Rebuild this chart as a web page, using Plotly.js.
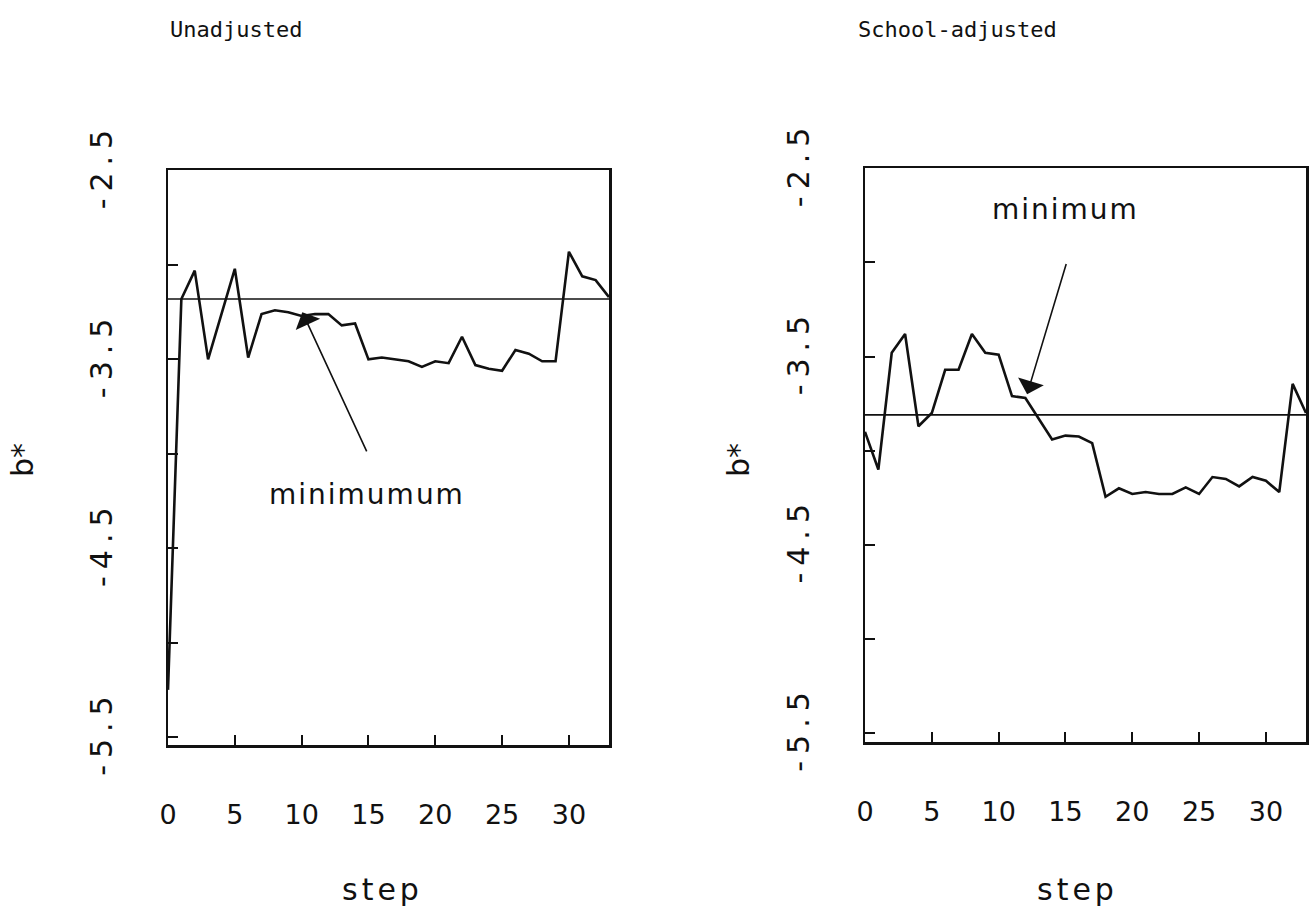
<!DOCTYPE html>
<html>
<head>
<meta charset="utf-8">
<script src="https://cdn.plot.ly/plotly-3.0.1.min.js"></script>
<style>
  html, body { margin: 0; padding: 0; background: #fff; }
  #chart { width: 1314px; height: 911px; }
  .ytick text, .y2tick text { letter-spacing: 7px; }
  g.annotation[data-index="4"] .annotation-text,
  g.annotation[data-index="5"] .annotation-text { letter-spacing: 4px; }
  g.annotation[data-index="7"] .annotation-text,
  g.annotation[data-index="9"] .annotation-text { letter-spacing: 2px; }
</style>
</head>
<body>
<div id="chart"></div>
<script>
// ---- data ----
const steps = [0,1,2,3,4,5,6,7,8,9,10,11,12,13,14,15,16,17,18,19,20,21,22,23,24,25,26,27,28,29,30,31,32,33];
const unadjusted = [-5.25,-3.18,-3.03,-3.50,-3.26,-3.02,-3.49,-3.26,-3.24,-3.25,-3.27,-3.26,-3.26,-3.32,-3.31,
  -3.50,-3.49,-3.50,-3.51,-3.54,-3.51,-3.52,-3.38,-3.53,-3.55,-3.56,-3.45,-3.47,-3.51,-3.51,-2.93,-3.06,-3.08,-3.17];
const schoolAdjusted = [-3.90,-4.10,-3.48,-3.38,-3.87,-3.80,-3.57,-3.57,-3.38,-3.48,-3.49,-3.71,-3.72,-3.83,-3.94,
  -3.92,-3.925,-3.96,-4.245,-4.20,-4.23,-4.22,-4.23,-4.23,-4.195,-4.23,-4.14,-4.15,-4.19,-4.14,-4.16,-4.22,-3.645,-3.80];
const refUnadjusted = -3.18;
const refSchool = -3.81;
const xTickVals = [0,5,10,15,20,25,30];
const yTickVals = [-5.5,-5,-4.5,-4,-3.5,-3,-2.5];
const yTickText = ['-5.5','','-4.5','','-3.5','','-2.5'];
const panelTitles = ['Unadjusted','School-adjusted'];
const xTitle = 'step';
const yTitle = 'b*';
// annotation anchors (data coords)
const minUnadj = {text:'minimumum', tip:[10.05,-3.25], start:[14.92,-3.995], label:[14.9,-4.217]};
const minSchool = {text:'minimum', tip:[12.13,-3.70], start:[15.09,-3.0], label:[14.98,-2.72]};

const first = steps[0], last = steps[steps.length-1];
const black = '#111';

const traces = [
  {x: steps, y: unadjusted, xaxis:'x', yaxis:'y', mode:'lines', line:{color:black, width:2.6}, hoverinfo:'skip'},
  {x: [first,last], y:[refUnadjusted, refUnadjusted], xaxis:'x', yaxis:'y', mode:'lines', line:{color:black, width:1.6}, hoverinfo:'skip'},
  {x: steps, y: schoolAdjusted, xaxis:'x2', yaxis:'y2', mode:'lines', line:{color:black, width:2.6}, hoverinfo:'skip'},
  {x: [first,last], y:[refSchool, refSchool], xaxis:'x2', yaxis:'y2', mode:'lines', line:{color:black, width:1.6}, hoverinfo:'skip'}
];

function xAx(domain, anchor){
  return {domain, anchor, range:[first, last], tickvals:xTickVals, ticks:'inside', ticklen:10, tickwidth:2,
    tickcolor:black, showline:true, linewidth:2.5, linecolor:black, mirror:true, showgrid:false, zeroline:false,
    tickfont:{family:'DejaVu Sans', size:27, color:black}, ticklabelstandoff:44, fixedrange:true};
}
function yAx(domain, anchor, range){
  return {domain, anchor, range, tickvals:yTickVals, ticktext:yTickText, ticks:'inside', ticklen:10, tickwidth:2,
    tickcolor:black, showline:true, linewidth:2.5, linecolor:black, mirror:true, showgrid:false, zeroline:false,
    tickfont:{family:'DejaVu Sans', size:30, color:black}, tickangle:-90, ticklabelstandoff:42, fixedrange:true};
}

function arrowAnn(a, xr, yr){
  return [
    {xref:xr, yref:yr, axref:xr, ayref:yr, x:a.tip[0], y:a.tip[1], ax:a.start[0], ay:a.start[1], text:'',
     showarrow:true, arrowhead:1, arrowsize:2.8, arrowwidth:1.6, arrowcolor:black},
    {xref:xr, yref:yr, x:a.label[0], y:a.label[1], text:a.text, showarrow:false,
     font:{family:'DejaVu Sans', size:28, color:black}, xanchor:'center', yanchor:'middle'}
  ];
}

const titleFont = {family:'DejaVu Sans Mono', size:22, color:black};
const axTitleFont = {family:'DejaVu Sans', size:30, color:black};
const annotations = [
  {xref:'paper', yref:'paper', x:168/1314, y:1-30/911, xanchor:'left', yanchor:'middle', text:panelTitles[0], showarrow:false, font:titleFont},
  {xref:'paper', yref:'paper', x:856/1314, y:1-30/911, xanchor:'left', yanchor:'middle', text:panelTitles[1], showarrow:false, font:titleFont},
  {xref:'paper', yref:'paper', x:22/1314, y:1-460/911, xanchor:'center', yanchor:'middle', text:yTitle, textangle:-90, showarrow:false, font:axTitleFont},
  {xref:'paper', yref:'paper', x:738/1314, y:1-460/911, xanchor:'center', yanchor:'middle', text:yTitle, textangle:-90, showarrow:false, font:axTitleFont},
  {xref:'paper', yref:'paper', x:382/1314, y:1-889/911, xanchor:'center', yanchor:'middle', text:xTitle, showarrow:false, font:axTitleFont},
  {xref:'paper', yref:'paper', x:1077/1314, y:1-889/911, xanchor:'center', yanchor:'middle', text:xTitle, showarrow:false, font:axTitleFont},
  ...arrowAnn(minUnadj, 'x', 'y'),
  ...arrowAnn(minSchool, 'x2', 'y2')
];

const layout = {
  width:1314, height:911,
  margin:{l:0, r:0, t:0, b:0, pad:0},
  paper_bgcolor:'#fff', plot_bgcolor:'#fff',
  showlegend:false,
  xaxis: xAx([168/1314, 609/1314], 'y'),
  yaxis: yAx([1-745/911, 1-170/911], 'x', [-5.542, -2.497]),
  xaxis2: xAx([865/1314, 1306/1314], 'y2'),
  yaxis2: yAx([1-742/911, 1-168/911], 'x2', [-5.548, -2.498]),
  annotations
};

Plotly.newPlot('chart', traces, layout, {displayModeBar:false, staticPlot:true});
</script>
</body>
</html>
